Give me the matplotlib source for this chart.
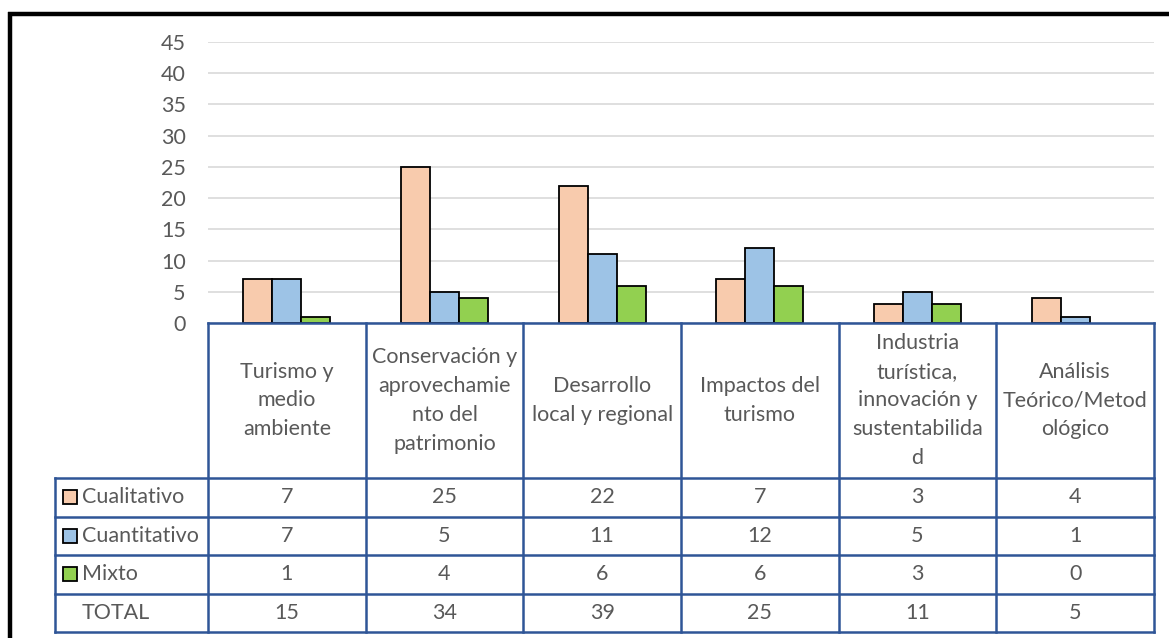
import matplotlib
matplotlib.use("Agg")
import matplotlib.pyplot as plt
from matplotlib.lines import Line2D
import numpy as np

# Datos
categorias = [
    "Turismo y\nmedio\nambiente",
    "Conservación y\naprovechamie\nnto del\npatrimonio",
    "Desarrollo\nlocal y regional",
    "Impactos del\nturismo",
    "Industria\nturística,\ninnovación y\nsustentabilida\nd",
    "Análisis\nTeórico/Metod\nológico",
]
series = ["Cualitativo", "Cuantitativo", "Mixto"]
cualitativo = [7, 25, 22, 7, 3, 4]
cuantitativo = [7, 5, 11, 12, 5, 1]
mixto = [1, 4, 6, 6, 3, 0]
total = [15, 34, 39, 25, 11, 5]

colores = ["#F8CBAD", "#9DC3E6", "#92D050"]
GRIS = "#595959"
AZUL = "#2F5597"
FS = 15.5

plt.rcParams["font.family"] = ["Lato", "DejaVu Sans"]

W, H = 1169, 638
fig = plt.figure(figsize=(W / 100, H / 100), dpi=100)

# pixeles de referencia
x0, x1 = 208, 1154
y_cero, y_top = 323, 42
y_bot = 632
x_leg = 55
col_w = (x1 - x0) / len(categorias)

# Grafico de barras
ax = fig.add_axes([x0 / W, (H - y_cero) / H, (x1 - x0) / W, (y_cero - y_top) / H])
x = np.arange(len(categorias))
bw = 0.184
for i, vals in enumerate([cualitativo, cuantitativo, mixto]):
    bars = ax.bar(x + (i - 1) * bw, vals, width=bw, color=colores[i],
                  edgecolor="black", linewidth=1.3, zorder=3)
    for b, v in zip(bars, vals):
        if v == 0:
            b.set_visible(False)
ax.set_xlim(-0.5, len(categorias) - 0.5)
ax.set_ylim(0, 45)
ax.set_yticks(range(0, 46, 5))
ax.yaxis.grid(True, color="#D9D9D9", linewidth=1.2, zorder=0)
ax.set_xticks([])
ax.tick_params(axis="y", length=0, pad=16, labelsize=FS, labelcolor=GRIS)
for s in ax.spines.values():
    s.set_visible(False)

# Tabla de datos
tx = fig.add_axes([x_leg / W, (H - y_bot) / H, (x1 - x_leg) / W, (y_bot - y_cero) / H])
izq = -0.5 - (x0 - x_leg) / col_w
tx.set_xlim(izq, len(categorias) - 0.5)
alto = y_bot - y_cero
tx.set_ylim(alto, 0)
tx.axis("off")

h_head = 155
h_row = (alto - h_head) / 4
lw = 1.8

def px(p):
    # pixel x de la figura -> unidades de categoria
    return -0.5 + (p - x0) / col_w

tx.plot([-0.5, len(categorias) - 0.5], [0, 0], color=AZUL, lw=lw, clip_on=False)
for k in range(len(categorias) + 1):
    tx.plot([k - 0.5, k - 0.5], [0, alto], color=AZUL, lw=lw, clip_on=False)
tx.plot([izq, izq], [h_head, alto], color=AZUL, lw=lw, clip_on=False)
for r in range(5):
    yy = h_head + r * h_row
    tx.plot([izq, len(categorias) - 0.5], [yy, yy], color=AZUL, lw=lw, clip_on=False)

for j, cat in enumerate(categorias):
    tx.text(j, h_head / 2, cat, ha="center", va="center", fontsize=FS,
            color=GRIS, linespacing=1.55)

filas = [cualitativo, cuantitativo, mixto, total]
nombres = series + ["TOTAL"]
for r, (nom, vals) in enumerate(zip(nombres, filas)):
    yc = h_head + (r + 0.5) * h_row
    if r < 3:
        tx.plot(px(70), yc, marker="s", markersize=9.5, markerfacecolor=colores[r],
                markeredgecolor="black", markeredgewidth=1.3, clip_on=False)
    tx.text(px(82), yc, nom, ha="left", va="center", fontsize=FS, color=GRIS)
    for j, v in enumerate(vals):
        tx.text(j, yc, str(v), ha="center", va="center", fontsize=FS, color=GRIS)

# Marco negro
fig.add_artist(Line2D([8 / W, 1.05], [1 - 14 / H, 1 - 14 / H], color="black",
                      lw=3.2, solid_capstyle="butt"))
fig.add_artist(Line2D([10 / W, 10 / W], [-0.05, 1 - 12 / H], color="black",
                      lw=3.2, solid_capstyle="butt"))

fig.savefig("out.png", dpi=100)
